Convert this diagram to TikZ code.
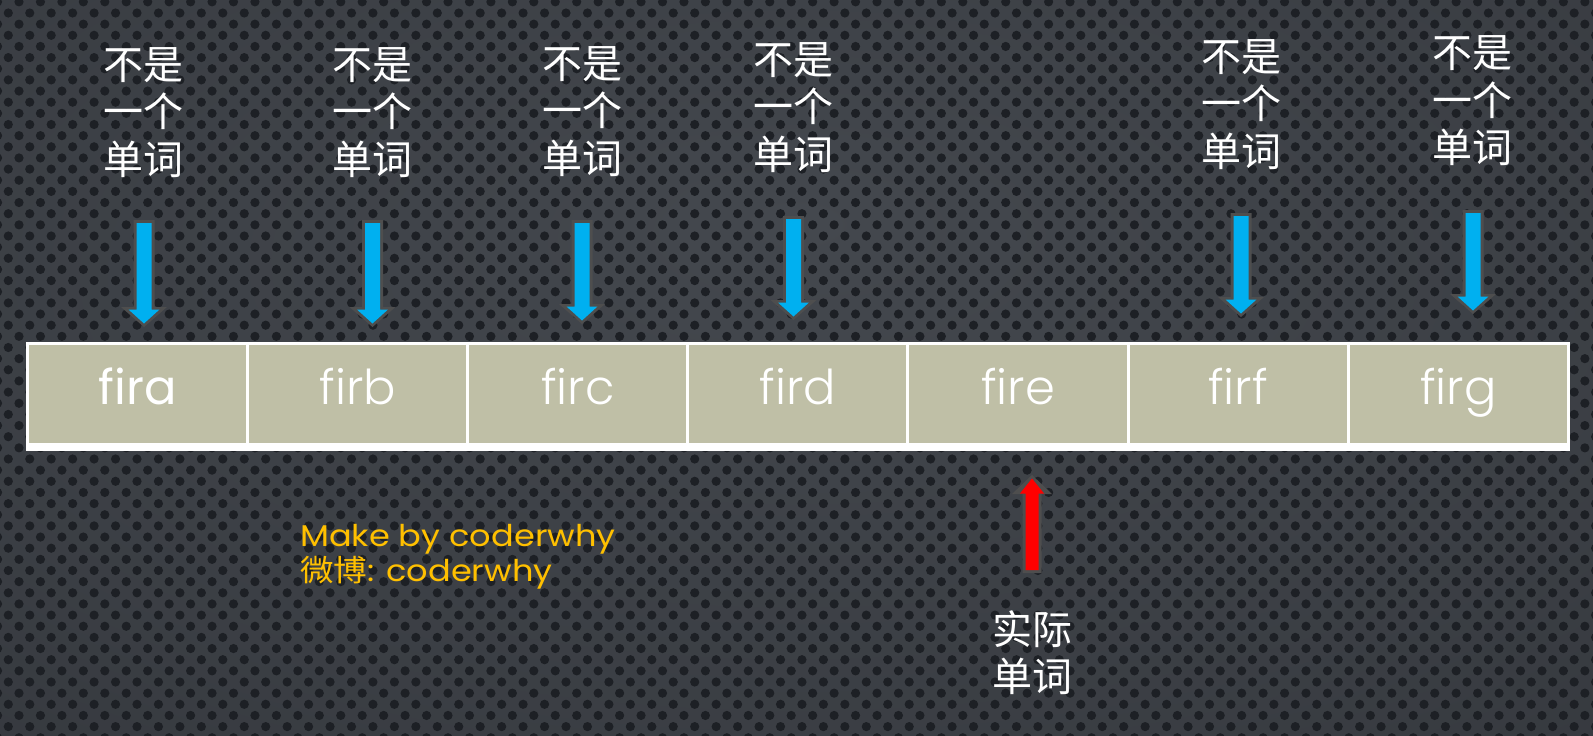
\documentclass[tikz,border=0pt]{standalone}
\usepackage{fontspec}
\newfontfamily\cjk{Noto Sans CJK SC}
\newfontfamily\pop{Poppins}
\newfontfamily\popl{Poppins Light}
\usetikzlibrary{calc}
\definecolor{bgin}{RGB}{68,72,78}
\definecolor{bgout}{RGB}{44,47,52}
\definecolor{dotc}{RGB}{29,32,37}
\definecolor{cellc}{RGB}{191,191,166}
\definecolor{arrblue}{RGB}{0,176,240}
\definecolor{arrred}{RGB}{255,0,0}
\definecolor{arrgray}{RGB}{78,78,78}
\definecolor{orangetxt}{RGB}{255,192,0}
\pgfdeclareradialshading{vign}{\pgfpoint{0bp}{10bp}}{color(0bp)=(bgin); color(30bp)=(bgin!60!bgout); color(60bp)=(bgout)}
% block arrow: #1 tail, #2 tip, #3 half shaft, #4 half head, #5 head length, #6 style
\newcommand\blkarrow[6]{%
  \fill[#6] let \p1=(#1), \p2=(#2), \p3=($(#2)!#5!(#1)$) in
  (\x1-#3,\y1) -- (\x1+#3,\y1) -- (\x1+#3,\y3) -- (\x1+#4,\y3) -- (\x2,\y2)
  -- (\x1-#4,\y3) -- (\x1-#3,\y3) -- cycle;}
\begin{document}
\begin{tikzpicture}[x=1pt,y=-1pt,
  cell/.style={fill=cellc, minimum width=217.1pt, minimum height=98pt, inner sep=0pt,
    text=white, font=\popl\fontsize{48}{60}\selectfont, text height=36pt, text depth=14pt},
  lbl/.style={text=white, align=center, inner sep=0pt, font=\cjk\fontsize{40}{47.5}\selectfont},
  credit/.style={text=orangetxt, inner sep=0pt, anchor=base west, xscale=1.12, font=\pop\fontsize{30}{34}\selectfont}]
\useasboundingbox (0,0) rectangle (1593,736);
% background
\shade[shading=vign] (0,0) rectangle (1593,736);
\foreach \r in {-1,...,65} {
  \pgfmathsetmacro\yy{13+11.15*\r}
  \pgfmathsetmacro\xo{mod(\r,2)==0 ? 8.3 : 19.0}
  \foreach \k in {-1,...,74} {
    \fill[dotc] (\xo+21.45*\k,\yy) circle[radius=4.6];
  }
}
% table
\fill[white] (26,342) rectangle (1570,451);
\node[cell, font=\pop\fontsize{48}{60}\selectfont] (c1) at (137.6,393.5) {fira};
\node[cell] (c2) at (357.7,393.5) {firb};
\node[cell] (c3) at (577.8,393.5) {firc};
\node[cell] (c4) at (797.9,393.5) {fird};
\node[cell] (c5) at (1018.0,393.5) {fire};
\node[cell] (c6) at (1238.1,393.5) {firf};
\node[cell] (c7) at (1458.2,393.5) {firg};
% labels
\node[lbl] (l1) at (143.5,112.5) {不是\\一个\\单词};
\node[lbl] (l2) at (372.5,112.5) {不是\\一个\\单词};
\node[lbl] (l3) at (582,111.5) {不是\\一个\\单词};
\node[lbl] (l4) at (793.5,107.5) {不是\\一个\\单词};
\node[lbl] (l5) at (1241,104.5) {不是\\一个\\单词};
\node[lbl] (l6) at (1472.5,101) {不是\\一个\\单词};
\node[lbl] (real) at (1032.5,652.5) {实际\\单词};
% arrow coordinates
\coordinate (t1) at (144,220);   \coordinate (h1) at (144,327);
\coordinate (t2) at (372.5,220); \coordinate (h2) at (372.5,327);
\coordinate (t3) at (582,220);   \coordinate (h3) at (582,324);
\coordinate (t4) at (793.5,216); \coordinate (h4) at (793.5,320);
\coordinate (t5) at (1241,213);  \coordinate (h5) at (1241,317);
\coordinate (t6) at (1473,210);  \coordinate (h6) at (1473,314);
\coordinate (rt) at (1032,573);  \coordinate (rh) at (1032,475);
\foreach \i in {1,...,6} {
  \blkarrow{t\i}{h\i}{10.5pt}{23pt}{20pt}{arrgray}
  \blkarrow{$(t\i)+(0,3)$}{$(h\i)+(0,-3.5)$}{7.5pt}{15.5pt}{14pt}{arrblue}
}
\blkarrow{rt}{rh}{9.5pt}{20pt}{19pt}{arrgray}
\blkarrow{$(rt)+(0,-3)$}{$(rh)+(0,3.5)$}{6.5pt}{12pt}{15pt}{arrred}
% credit
\node[credit] (mk1) at (300,546.7) {Make by coderwhy};
\node[credit] (mk2) at (300,581.5) {{\cjk 微博}: coderwhy};
\end{tikzpicture}
\end{document}
